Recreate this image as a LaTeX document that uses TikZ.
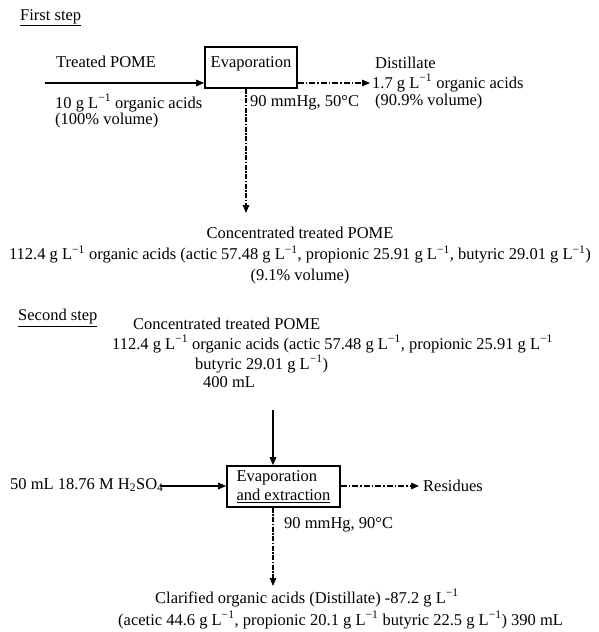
\documentclass[tikz,border=0pt]{standalone}
\usepackage{fontspec}
\setmainfont{Liberation Serif}
\usetikzlibrary{arrows.meta,calc}
\newcommand{\gL}{g L\textsuperscript{−1}}
\begin{document}
\begin{tikzpicture}[x=1pt,y=-1pt,
  txt/.style={inner sep=0pt,font=\fontsize{16.5}{21}\selectfont},
  lt/.style={txt,anchor=west},
  proc/.style={draw,line width=1.6pt,inner sep=2pt,font=\fontsize{16.5}{20}\selectfont},
  flow/.style={line width=1.3pt,-{Triangle[length=8pt,width=6.5pt]}},
  dflow/.style={flow,dash pattern=on 6pt off 2pt on 1.5pt off 2pt},
  vflow/.style={flow,dash pattern=on 5pt off 1.5pt on 1.5pt off 1.5pt}]
\useasboundingbox (0,0) rectangle (599,632);
% first step
\node[lt] (s1) at (20,18) {\underline{First step}};
\node[proc,minimum width=92pt,minimum height=41pt,text depth=11pt] (b1) at (251,67.5) {Evaporation};
\coordinate (in1) at (45,83);
\coordinate (out1) at (370,83);
\coordinate (dn1) at (246,213);
\node[lt] (tp) at (56,62) {Treated POME};
\node[lt] (oa1) at (55,103) {10 \gL{} organic acids};
\node[lt] (vol1) at (55,121) {(100\% volume)};
\node[lt] (dst) at (375,63) {Distillate};
\node[lt] (dst2) at (372,83) {1.7 \gL{} organic acids};
\node[lt] (dst3) at (375,102) {(90.9\% volume)};
\node[lt] (c1) at (250,103) {90 mmHg, 50°C};
\draw[flow] (in1) -- (in1 -| b1.west);
\draw[dflow] (out1 -| b1.east) -- (out1);
\draw[vflow] (dn1 |- b1.south) -- (dn1);
\node[txt,align=center,anchor=north] (ct) at (300,227) {Concentrated treated POME\\
112.4 \gL{} organic acids (actic 57.48 \gL, propionic 25.91 \gL, butyric 29.01 \gL)\\
(9.1\% volume)};
% second step
\node[lt] (s2) at (18,318) {\underline{Second step}};
\node[lt] (ct2a) at (133,324) {Concentrated treated POME};
\node[lt] (ct2b) at (112,344) {112.4 \gL{} organic acids (actic 57.48 \gL, propionic 25.91 \gL};
\node[lt] (ct2c) at (195,364) {butyric 29.01 \gL)};
\node[lt] (ct2d) at (203,382) {400 mL};
\node[proc,minimum width=113pt,minimum height=41pt,align=left,inner sep=1pt,font=\fontsize{16.5}{19}\selectfont] (b2) at (283.5,486.5) {Evaporation\\\underline{and extraction}};
\coordinate (top2) at (273,410);
\coordinate (in2) at (160,486);
\coordinate (out2) at (419,486);
\coordinate (dn2) at (273,586);
\draw[flow] (top2) -- (top2 |- b2.north);
\node[lt] (acid) at (10,485) {50 mL 18.76 M H\textsubscript{2}SO\textsubscript{4}};
\draw[flow] (in2) -- (in2 -| b2.west);
\draw[dflow] (out2 -| b2.east) -- (out2);
\node[lt] (res) at (423,486) {Residues};
\draw[vflow] (dn2 |- b2.south) -- (dn2);
\node[lt] (c2) at (284,525) {90 mmHg, 90°C};
\node[lt] (cl1) at (155,598) {Clarified organic acids (Distillate) -87.2 \gL};
\node[lt] (cl2) at (118,620) {(acetic 44.6 \gL, propionic 20.1 \gL{} butyric 22.5 \gL) 390 mL};
\end{tikzpicture}
\end{document}
